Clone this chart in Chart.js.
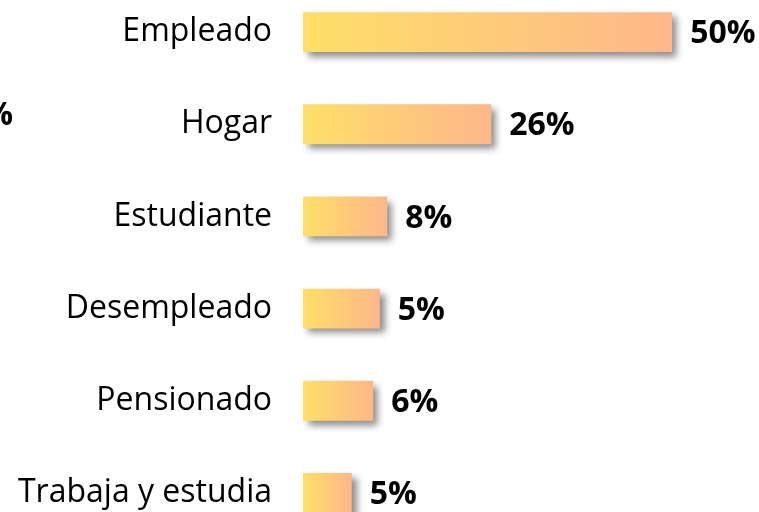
<!DOCTYPE html>
<html>
<head>
<meta charset="utf-8">
<script src="https://cdn.jsdelivr.net/npm/chart.js@4/dist/chart.umd.min.js"></script>
<style>
  html, body { margin:0; padding:0; background:#fff; overflow:hidden; }
  body { width:759px; height:512px; position:relative; }
  #wrap { position:absolute; left:0; top:-14px; width:759px; height:553px; }
</style>
</head>
<body>
<div id="wrap"><canvas id="c"></canvas></div>
<script>
// categories + values
const categories  = ['Empleado', 'Hogar', 'Estudiante', 'Desempleado', 'Pensionado', 'Trabaja y estudia'];
const shareLabels = ['50%', '26%', '8%', '5%', '6%', '5%'];
// bar lengths as drawn (same units, 50 = longest bar)
const barValues   = [50, 25.5, 11.4, 10.4, 9.5, 6.6];

const FONT = '"Open Sans", "Liberation Sans", sans-serif';

// bar fill: yellow -> peach along each bar
function barFill(ctx){
  const chart = ctx.chart;
  const area = chart.chartArea;
  if (!area) return '#FFD27A';
  const xs = chart.scales.x;
  const x0 = xs.getPixelForValue(0);
  const x1 = xs.getPixelForValue(ctx.raw);
  const g = chart.ctx.createLinearGradient(x0, 0, x1, 0);
  g.addColorStop(0, '#FFDF68');
  g.addColorStop(1, '#FDB78A');
  return g;
}

const shadowPlugin = {
  id: 'barShadow',
  beforeDatasetsDraw(chart){
    const c = chart.ctx;
    c.save();
    c.shadowColor = 'rgba(0,0,0,0.45)';
    c.shadowBlur = 7;
    c.shadowOffsetX = 5;
    c.shadowOffsetY = 5;
  },
  afterDatasetsDraw(chart){
    chart.ctx.restore();
  }
};

const valueLabels = {
  id: 'valueLabels',
  afterDatasetsDraw(chart){
    const c = chart.ctx;
    const meta = chart.getDatasetMeta(0);
    c.save();
    c.font = 'bold 32px ' + FONT;
    c.fillStyle = '#000';
    c.textAlign = 'left';
    c.textBaseline = 'middle';
    meta.data.forEach((bar, i) => {
      c.fillText(shareLabels[i], bar.x + 18, bar.y + 2);
    });
    // clipped leftover label at the left edge
    c.textAlign = 'right';
    c.fillText('%', 13, 130);
    c.restore();
  }
};

new Chart(document.getElementById('c').getContext('2d'), {
  type: 'bar',
  data: {
    labels: categories,
    datasets: [{
      data: barValues,
      backgroundColor: barFill,
      borderWidth: 0,
      barPercentage: 0.9,
      categoryPercentage: 0.48
    }]
  },
  options: {
    indexAxis: 'y',
    responsive: true,
    maintainAspectRatio: false,
    animation: false,
    layout: { padding: { left: 0, right: 13, top: 0, bottom: 0 } },
    plugins: { legend: { display: false }, tooltip: { enabled: false } },
    scales: {
      x: { display: false, min: 0, max: 60 },
      y: {
        grid: { display: false, drawTicks: false },
        border: { display: false },
        ticks: { color: '#000', padding: 31, font: { family: FONT, size: 32 } },
        afterFit(s){ s.width = 303; s.paddingTop = 0; s.paddingBottom = 0; }
      }
    }
  },
  plugins: [shadowPlugin, valueLabels]
});
</script>
</body>
</html>
